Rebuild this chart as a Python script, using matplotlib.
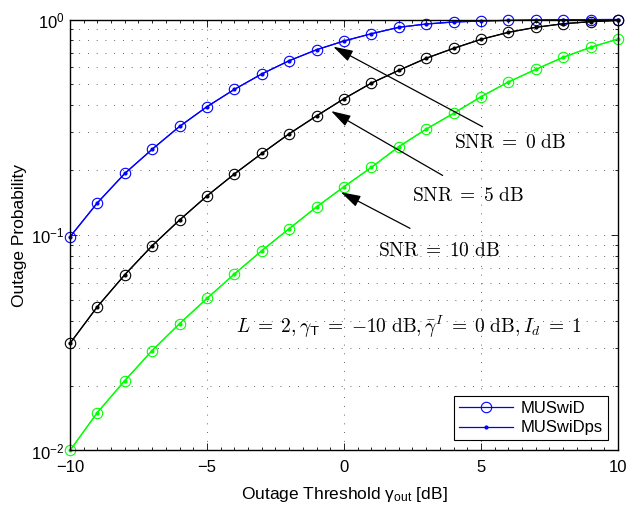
import numpy as np
import matplotlib
matplotlib.use("Agg")
import matplotlib.pyplot as plt
from matplotlib.ticker import FixedLocator, LogLocator, NullFormatter, MultipleLocator

plt.rcParams['font.family'] = ['Liberation Sans', 'DejaVu Sans']
plt.rcParams['mathtext.fontset'] = 'custom'
plt.rcParams['mathtext.rm'] = 'Liberation Sans'
plt.rcParams['mathtext.it'] = 'Liberation Sans:italic'
plt.rcParams['mathtext.bf'] = 'Liberation Sans:bold'

# Outage threshold grid [dB]
gamma_out_db = list(range(-10, 11))

# Outage probability for each average SNR
p_snr0 = [0.098, 0.141, 0.193, 0.250, 0.319, 0.394, 0.474, 0.559, 0.644, 0.724,
          0.795, 0.859, 0.920, 0.953, 0.974, 0.984, 0.991, 0.995, 0.998, 0.999, 1.0]
p_snr5 = [0.0314, 0.0465, 0.0654, 0.0892, 0.1174, 0.1518, 0.192, 0.239, 0.295, 0.357,
          0.429, 0.507, 0.581, 0.661, 0.735, 0.809, 0.872, 0.920, 0.956, 0.977, 0.991]
p_snr10 = [0.0100, 0.0150, 0.0211, 0.0291, 0.0388, 0.0508, 0.0659, 0.0846, 0.107, 0.135,
           0.1675, 0.206, 0.257, 0.310, 0.367, 0.438, 0.513, 0.587, 0.668, 0.743, 0.812]

series = [(p_snr0, '#0000ff'), (p_snr5, '#000000'), (p_snr10, '#00ff00')]
legend_labels = ['MUSwiD', 'MUSwiDps']

# SNR annotations: label, label position, arrow tail, arrow tip (data coords)
snr_labels = [r'$\mathrm{SNR}\;=\;0\ \mathrm{dB}$',
              r'$\mathrm{SNR}\;=\;5\ \mathrm{dB}$',
              r'$\mathrm{SNR}\;=\;10\ \mathrm{dB}$']
label_pos = [(6.06, 0.2664), (4.54, 0.1517), (3.47, 0.0845)]
arrow_tail = [(5.06, 0.318), (3.60, 0.189), (2.41, 0.1074)]
arrow_tip = [(-0.39, 0.748), (-0.47, 0.376), (-0.11, 0.158)]

fig = plt.figure(figsize=(6.27, 5.11), dpi=100)
ax = fig.add_axes([0.1116, 0.1184, 0.8740, 0.8434])

lw = 0.9
for vals, col in series:
    ax.plot(gamma_out_db, vals, '-', color=col, lw=lw, marker='o', ms=7.5,
            mfc='none', mec=col, mew=0.8, clip_on=False)
    ax.plot(gamma_out_db, vals, '-', color=col, lw=lw, marker='.', ms=4, clip_on=False)

ax.set_yscale('log')
ax.set_xlim(-10, 10)
ax.set_ylim(1e-2, 1.0)

ax.xaxis.set_major_locator(FixedLocator([-10, -5, 0, 5, 10]))
ax.xaxis.set_minor_locator(MultipleLocator(0.5))
ax.yaxis.set_major_locator(LogLocator(base=10))
ax.yaxis.set_minor_locator(LogLocator(base=10, subs=np.arange(2, 10)))
ax.yaxis.set_minor_formatter(NullFormatter())

ax.tick_params(which='both', direction='in', top=True, right=True,
               labelsize=12, width=0.6)
ax.tick_params(which='major', length=5)
ax.tick_params(axis='x', which='major', pad=7)
ax.tick_params(axis='y', which='major', pad=4)
ax.tick_params(which='minor', length=2.5)
for s in ax.spines.values():
    s.set_linewidth(1.0)

grid_kw = dict(color='#333333', linewidth=0.6, linestyle=(0, (1, 9.5)))
ax.grid(True, which='major', axis='x', **grid_kw)
ax.grid(True, which='both', axis='y', **grid_kw)

ax.set_xlabel(r'Outage Threshold γ${}_{\mathrm{out}}$ [dB]', fontsize=12.5, labelpad=7)
ax.set_ylabel('Outage Probability', fontsize=12.5, labelpad=3)

for lab, lp, tl, tp in zip(snr_labels, label_pos, arrow_tail, arrow_tip):
    ax.annotate('', xy=tp, xytext=tl,
                arrowprops=dict(arrowstyle='-|>,head_length=1.0,head_width=0.3',
                                color='black', lw=0.9, shrinkA=0, shrinkB=0,
                                mutation_scale=12))
    ax.text(lp[0], lp[1], lab, ha='center', va='center', fontsize=14,
            math_fontfamily='cm')

ax.text(2.35, 0.0374,
        r'$L\;=\;2, \gamma_{\mathsf{T}}\;=\;{-10}\ \mathrm{dB}, \bar{\gamma}^{I}\;=\;0\ \mathrm{dB}, I_d\;=\;1$',
        ha='center', va='center', fontsize=14, math_fontfamily='cm')

# Legend entries
h1, = ax.plot([], [], '-', color='#0000ff', lw=lw, marker='o', ms=7.5, mfc='none', mew=0.8)
h2, = ax.plot([], [], '-', color='#0000ff', lw=lw, marker='.', ms=4)
leg = ax.legend([h1, h2], legend_labels, loc='lower right', fontsize=12,
                handlelength=3.2, fancybox=False, framealpha=1, edgecolor='black',
                borderaxespad=0.6, labelspacing=0.25, borderpad=0.3, handletextpad=0.5)
leg.get_frame().set_linewidth(0.8)

fig.savefig('out.png', dpi=100)
